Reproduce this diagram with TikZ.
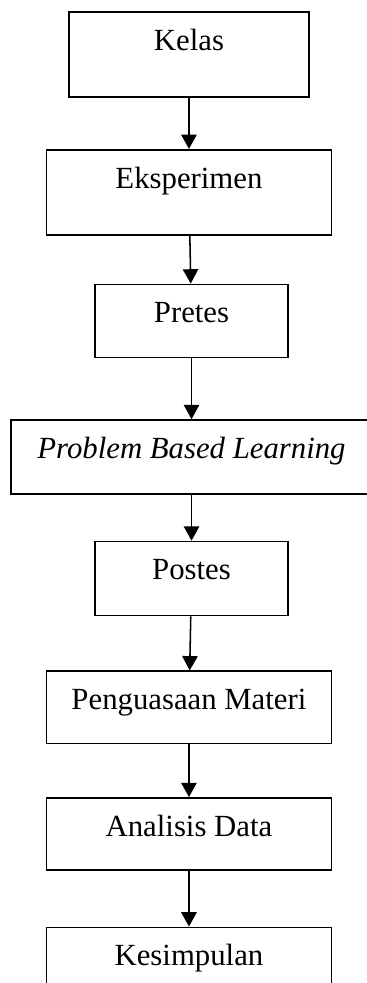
\documentclass[tikz,border=0pt]{standalone}
\usepackage{fontspec}
\setmainfont{Liberation Serif}
\usepackage{tikz}
\usetikzlibrary{positioning,arrows.meta}

\begin{document}
\begin{tikzpicture}[auto,>={Triangle[length=5.6pt,width=6pt]},
    box/.style={draw,line width=0.6pt,inner sep=0pt,text height=15pt,text depth=13.5pt,font=\fontsize{12}{14}\selectfont},
    line/.style={->,line width=0.6pt}]
    \useasboundingbox (-73.7pt,21.3pt) rectangle (69.4pt,-362.1pt);

    \node (kelas) [box,minimum width=93.6pt,text depth=18.2pt] at (0,0) {Kelas};
    \node (eksperimen) [box,minimum width=111.2pt,text depth=18.2pt,below=19.9pt of kelas] {Eksperimen};
    \node (pretes) [box,minimum width=75.3pt,below=18.7pt of eksperimen,xshift=1pt] {Pretes};
    \node (pbl) [box,minimum width=140.8pt,text depth=13.9pt,below=23.8pt of pretes] {\itshape Problem Based Learning};
    \node (postes) [box,minimum width=75.3pt,text depth=13.9pt,below=17.9pt of pbl] {Postes};
    \node (penguasaan) [box,minimum width=111.2pt,text depth=13.1pt,below=21.1pt of postes,xshift=-1pt] {Penguasaan Materi};
    \node (analisis) [box,minimum width=111.2pt,text depth=13.1pt,below=20.7pt of penguasaan] {Analisis Data};
    \node (kesimpulan) [box,minimum width=111.2pt,text depth=13.1pt,below=21.8pt of analisis] {Kesimpulan};

    \draw[line] (kelas) -- (eksperimen);
    \draw[line] (eksperimen) -- (pretes);
    \draw[line] (pretes) -- (pbl);
    \draw[line] (pbl) -- (postes);
    \draw[line] (postes) -- (penguasaan);
    \draw[line] (penguasaan) -- (analisis);
    \draw[line] (analisis) -- (kesimpulan);
\end{tikzpicture}
\end{document}
